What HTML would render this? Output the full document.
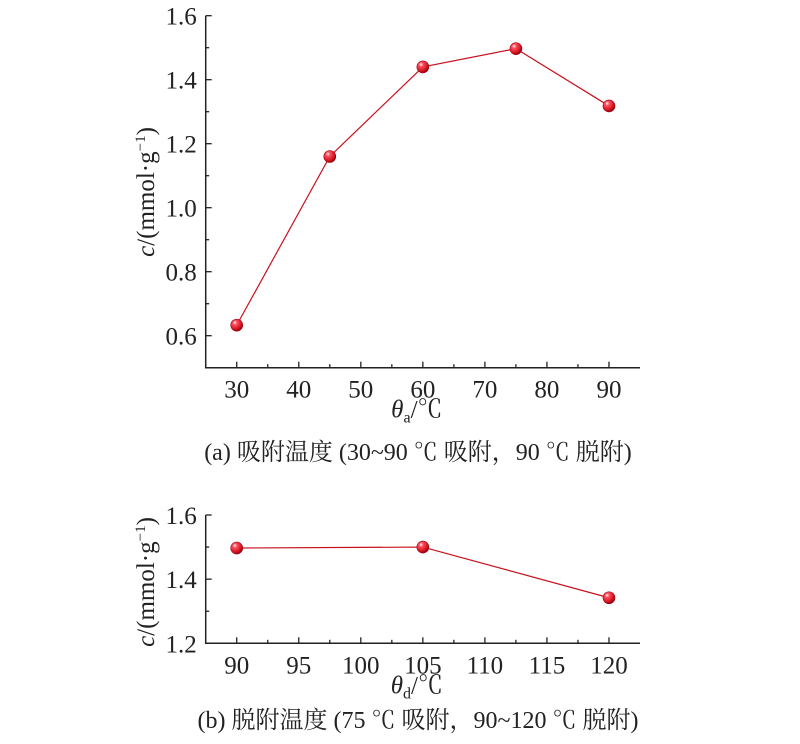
<!DOCTYPE html>
<html><head><meta charset="utf-8"><style>
html,body{margin:0;padding:0;background:#fff;width:800px;height:744px;overflow:hidden}
svg text{font-family:"Liberation Serif","Noto Serif CJK SC",serif;fill:#222}
</style></head><body>
<svg id="svg" width="800" height="744" viewBox="0 0 800 744" xmlns="http://www.w3.org/2000/svg">
<defs>
<radialGradient id="ball" cx="0.35" cy="0.3" r="0.7">
<stop offset="0" stop-color="#fff"/><stop offset="0.25" stop-color="#ff5060"/><stop offset="0.8" stop-color="#d0101c"/><stop offset="1" stop-color="#900010"/>
</radialGradient>
</defs>
<g id="chartA"></g>
<g id="chartB"></g>
<text x="418" y="460" text-anchor="middle" font-size="24">(a) 吸附温度 (30~90 ℃ 吸附，90 ℃ 脱附)</text>
<text x="418" y="728" text-anchor="middle" font-size="24">(b) 脱附温度 (75 ℃ 吸附，90~120 ℃ 脱附)</text>
</svg>
<script>
const catsA=[30,45,60,75,90];
const valsA=[0.633,1.16,1.44,1.497,1.318];
const xTicksA=[30,40,50,60,70,80,90];
const yTicksA=["0.6","0.8","1.0","1.2","1.4","1.6"];
const catsB=[90,105,120];
const valsB=[1.497,1.50,1.342];
const xTicksB=[90,95,100,105,110,115,120];
const yTicksB=["1.2","1.4","1.6"];
const NS="http://www.w3.org/2000/svg";
function mk(p,tag,at){const e=document.createElementNS(NS,tag);for(const k in at)e.setAttribute(k,at[k]);p.appendChild(e);return e;}
function draw(g,cfg){
 const L=205.7,R=640,T=cfg.top,B=cfg.bottom;
 const sx=v=>L+(v-cfg.x0)/(cfg.x1-cfg.x0)*(R-L);
 const sy=v=>B-(v-cfg.y0)/(cfg.y1-cfg.y0)*(B-T);
 const ax=mk(g,'path',{d:`M${L},${sy(cfg.y1)}V${B}H${R}`,fill:'none',stroke:'#222','stroke-width':1.5});
 
 
 const xs=cfg.xt;
 for(let i=0;i<xs.length;i++){
  const x=sx(xs[i]);
  mk(g,'line',{x1:x,x2:x,y1:B,y2:B-6,stroke:'#222','stroke-width':1.3});
  if(i<xs.length-1){const m=sx((xs[i]+xs[i+1])/2);mk(g,'line',{x1:m,x2:m,y1:B,y2:B-3.5,stroke:'#222','stroke-width':1.3});}
  const t=mk(g,'text',{x:x,y:B+30,'text-anchor':'middle','font-size':25});
  t.textContent=xs[i];
  
  
 }
 const ys=cfg.yt;
 for(let i=0;i<ys.length;i++){
  const v=parseFloat(ys[i]),y=sy(v);
  mk(g,'line',{x1:L,x2:L+6,y1:y,y2:y,stroke:'#222','stroke-width':1.3});
  const m=sy(v+cfg.ystep/2);
  if(v+cfg.ystep/2<=cfg.y1+1e-9) mk(g,'line',{x1:L,x2:L+3.5,y1:m,y2:m,stroke:'#222','stroke-width':1.3});
  const t=mk(g,'text',{x:L-9,y:y+9,'text-anchor':'end','font-size':25});
  t.textContent=ys[i];
  
  
 }
 const pts=cfg.c.map((c,i)=>sx(c)+','+sy(cfg.v[i])).join(' ');
 const ln=mk(g,'polyline',{points:pts,fill:'none',stroke:'#c8101c','stroke-width':1.2});
 
 
 cfg.c.forEach((c,i)=>{
  const p=mk(g,'circle',{cx:sx(c),cy:sy(cfg.v[i]),r:6,fill:'url(#ball)',stroke:'#a00010','stroke-width':0.6});
  
  
 });
 const xt=mk(g,'text',{x:(L+R)/2-6,y:B+cfg.xtOff,'text-anchor':'middle','font-size':25});
 xt.innerHTML=`<tspan font-style="italic">θ</tspan><tspan font-size="16" dy="5">${cfg.sub}</tspan><tspan dy="-5">/℃</tspan>`;
 
 
 const yt=mk(g,'text',{x:0,y:0,'text-anchor':'middle','font-size':25,transform:`translate(154,${cfg.ytc}) rotate(-90)`});
 yt.innerHTML='<tspan font-style="italic">c</tspan>/(mmol·g<tspan font-size="15" dy="-9">−1</tspan><tspan dy="9">)</tspan>';
 
 
}
draw(document.getElementById('chartA'),{top:15.7,bottom:367.7,x0:25,x1:95,y0:0.5,y1:1.6,ystep:0.2,xt:xTicksA,yt:yTicksA,c:catsA,v:valsA,sub:'a',xtOff:50,ytc:192});
draw(document.getElementById('chartB'),{top:515,bottom:643.3,x0:87.5,x1:122.5,y0:1.2,y1:1.6,ystep:0.2,xt:xTicksB,yt:yTicksB,c:catsB,v:valsB,sub:'d',xtOff:50,ytc:582});
</script>
</body></html>
